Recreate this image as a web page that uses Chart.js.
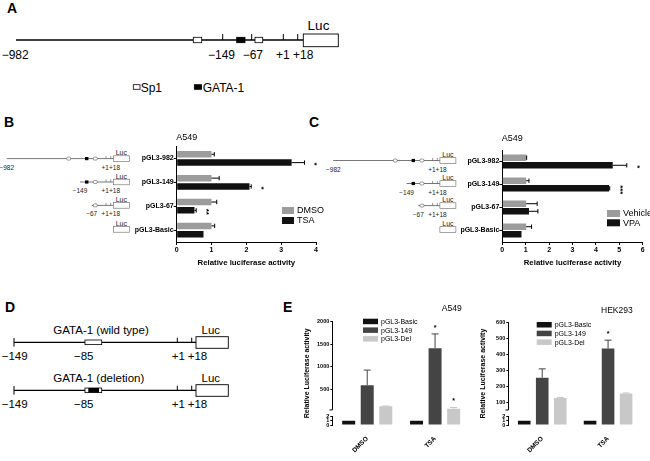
<!DOCTYPE html>
<html>
<head>
<meta charset="utf-8">
<script src="https://cdn.jsdelivr.net/npm/chart.js@4.4.1/dist/chart.umd.min.js"></script>
<style>
html, body { margin: 0; padding: 0; background: #fff; }
#fig { position: relative; width: 650px; height: 461px; overflow: hidden; }
#fig svg, #fig canvas { position: absolute; }
</style>
</head>
<body>
<div id="fig">
  <svg id="art" width="650" height="461" style="left:0;top:0"></svg>
  <canvas id="chartB" width="210" height="145" style="left:115px;top:128px"></canvas>
  <canvas id="chartC" width="210" height="145" style="left:440px;top:128px"></canvas>
  <canvas id="chartE1" width="176" height="161" style="left:296px;top:300px"></canvas>
  <canvas id="chartE2" width="178" height="161" style="left:472px;top:300px"></canvas>
</div>
<script>
// ---- data ----
const constructs = ['pGL3-982', 'pGL3-149', 'pGL3-67', 'pGL3-Basic'];

// panel B (A549, TSA)
const xTicksB = [0, 1, 2, 3, 4];
const dmso = [1.0, 1.0, 1.0, 1.0];
const dmsoErr = [0.08, 0.22, 0.15, 0.09];
const tsa = [3.30, 2.09, 0.51, 0.77];
const tsaErr = [0.37, 0.05, 0.05, 0];
const tsaSig = ['*', '*', '**', ''];

// panel C (A549, VPA)
const xTicksC = [0, 1, 2, 3, 4, 5, 6];
const vehicle = [1.02, 1.02, 1.02, 1.02];
const vehicleErr = [0.02, 0.12, 0.47, 0.23];
const vpa = [4.72, 4.56, 1.14, 0.82];
const vpaErr = [0.6, 0.03, 0.38, 0];
const vpaSig = ['*', '***', '', ''];

// panel E
const treatments = ['DMSO', 'TSA'];
const yTicksA549 = [0, 1, 2, 500, 1000, 1500, 2000];
const basicA549 = [1.0, 1.0];
const p149A549 = [595, 1415];
const p149A549Err = [335, 315];
const delA549 = [133, 78];
const delA549Err = [4, 25];
const yTicksHEK = [0, 1, 2, 100, 200, 300, 400, 500, 600];
const basicHEK = [1.0, 1.0];
const p149HEK = [253, 436];
const p149HEKErr = [55, 52];
const delHEK = [125, 153];
const delHEKErr = [4, 4];
const sig149 = ['', '*'];
const sigDelA549 = ['', '*'];

const FONT = 'Arial, "Liberation Sans", sans-serif';
const GRAY = '#9c9c9c';
const BLACK = '#111111';

// ---- static artwork (constructs, panel letters) ----
const NS = 'http://www.w3.org/2000/svg';
const art = document.getElementById('art');
function add(tag, attrs, text) {
    const e = document.createElementNS(NS, tag);
    for (const k in attrs) e.setAttribute(k, attrs[k]);
    if (text !== undefined) e.textContent = text;
    art.appendChild(e);
}
function seg(x1, y1, x2, y2, w = 1, c = '#000') {
    add('line', { x1, y1, x2, y2, stroke: c, 'stroke-width': w });
}
function box(x, y, w, h, fill, sw = 0.8, stroke = '#000', rx = 0) {
    add('rect', { x, y, width: w, height: h, fill, stroke, 'stroke-width': sw, rx });
}
function txt(x, y, s, size, anchor = 'start', weight = 'normal', fill = '#000') {
    add('text', { x, y, 'font-size': size, 'text-anchor': anchor, 'font-weight': weight, fill, 'font-family': FONT }, s);
}

txt(7, 13, 'A', 14, 'start', 'bold');
txt(4, 127, 'B', 14, 'start', 'bold');
txt(309, 127, 'C', 14, 'start', 'bold');
txt(5, 312, 'D', 14, 'start', 'bold');
txt(283, 312, 'E', 14, 'start', 'bold');

// panel A
seg(16, 40, 303.3, 40, 1.3);
box(193.3, 37.3, 8.4, 5.4, '#fff');
seg(222.7, 34, 222.7, 40);
box(236.7, 37.3, 8.3, 5.4, '#000');
seg(251.7, 34, 251.7, 40);
box(255, 37.3, 7.7, 5.4, '#fff');
seg(283.3, 34, 283.3, 40);
seg(297.7, 34, 297.7, 40);
box(303.3, 34, 35, 12.7, '#fff', 0.9);
txt(318.5, 30, 'Luc', 13.5, 'middle');
txt(1.7, 59.3, '−982', 12);
txt(208, 59.3, '−149', 12);
txt(242.7, 59.3, '−67', 12);
txt(276, 59.3, '+1', 12);
txt(293, 59.3, '+18', 12);
box(133.3, 84.7, 6.7, 4.6, '#fff');
txt(140.7, 91.6, 'Sp1', 12);
box(194.3, 84.7, 7.3, 4.6, '#000');
txt(202.7, 91.6, 'GATA-1', 12);

// small constructs next to panels B and C
function mini(x0, y, start, leftLabel) {
    const L = x0 + 106.6;
    if (start !== null) {
        seg(x0 + start, y, L, y, 0.8, '#555');
        if (start <= 60) box(x0 + 60, y - 1.5, 4, 3, '#fff', 0.6, '#555', 1.2);
        if (start <= 78) box(x0 + 78.3, y - 1.6, 3.4, 3.2, '#000', 0);
        box(x0 + 86.6, y - 1.5, 4, 3, '#fff', 0.6, '#555', 1.2);
        seg(x0 + 99.3, y - 2.6, x0 + 99.3, y, 0.6, '#555');
        seg(x0 + 104, y - 2.6, x0 + 104, y, 0.6, '#555');
        txt(x0 + start, y + 11, leftLabel, 6.5, 'middle', 'normal', '#222');
        txt(x0 + 104.1, y + 11, '+1+18', 6.5, 'middle', 'normal', '#222');
    }
    box(L, y - 2.8, 16, 5.6, '#fff', 0.6, '#666');
    txt(L + 8, y - 3.4, 'Luc', 7, 'middle', 'normal', '#222');
}
const miniStarts = [0, 73.3, 85, null];
const miniLabels = ['−982', '−149', '−67', ''];
const miniRowsB = [158.6, 182, 205.4, 229.4];
const miniRowsC = [160.5, 183.5, 205.6, 229.5];
miniStarts.forEach((s, i) => mini(6.7, miniRowsB[i], s, miniLabels[i]));
miniStarts.forEach((s, i) => mini(333.3, miniRowsC[i], s, miniLabels[i]));

// panel D
function dRow(dy, title, deleted) {
    const y = 342.3 + dy;
    txt(53.3, 334.3 + dy, title, 11.5);
    seg(14, y, 196, y, 1.3);
    seg(14, y - 4.3, 14, y + 4.3);
    box(85, y - 2.3, 16.7, 4.6, '#fff', 0.8);
    if (deleted) box(88.3, y - 2.3, 10.7, 4.6, '#000', 0);
    seg(177.3, y - 4.6, 177.3, y);
    seg(191.7, y - 4.6, 191.7, y);
    box(196, y - 5.6, 32.3, 11.6, '#fff', 0.9);
    txt(210.8, 333.5 + dy, 'Luc', 11.5, 'middle');
    txt(1.7, 360 + dy, '−149', 11.5);
    txt(74, 360 + dy, '−85', 11.5);
    txt(171.7, 360 + dy, '+1', 11.5);
    txt(187.7, 360 + dy, '+18', 11.5);
}
dRow(0, 'GATA-1 (wild type)', false);
dRow(48, 'GATA-1 (deletion)', true);

// ---- chart helpers ----
Chart.defaults.font.family = FONT;
Chart.defaults.color = '#000';

// y axis with a break between 2 and 50 (lower part 0-2, upper part 50-max)
const BRK = { lowMax: 2, highMin: 50, lowFrac: 0.081, gapFrac: 0.065 };
class BrokenScale extends Chart.LinearScale {
    getPixelForValue(value) {
        const hi = 1 - BRK.lowFrac - BRK.gapFrac;
        let d;
        if (value <= BRK.lowMax) d = value / BRK.lowMax * BRK.lowFrac;
        else if (value < BRK.highMin) d = BRK.lowFrac + BRK.gapFrac * (value - BRK.lowMax) / (BRK.highMin - BRK.lowMax);
        else d = BRK.lowFrac + BRK.gapFrac + (value - BRK.highMin) / (this.max - BRK.highMin) * hi;
        return this.getPixelForDecimal(d);
    }
    getValueForPixel(pixel) {
        const d = this.getDecimalForPixel(pixel);
        const hi = 1 - BRK.lowFrac - BRK.gapFrac;
        if (d <= BRK.lowFrac) return d / BRK.lowFrac * BRK.lowMax;
        if (d <= BRK.lowFrac + BRK.gapFrac) return BRK.lowMax;
        return BRK.highMin + (d - BRK.lowFrac - BRK.gapFrac) / hi * (this.max - BRK.highMin);
    }
}
BrokenScale.id = 'broken';
BrokenScale.defaults = Chart.LinearScale.defaults;
Chart.register(BrokenScale);

const errorBars = {
    id: 'errorBars',
    afterDatasetsDraw(chart) {
        const ctx = chart.ctx;
        const horizontal = chart.options.indexAxis === 'y';
        const vScale = horizontal ? chart.scales.x : chart.scales.y;
        chart.data.datasets.forEach((ds, i) => {
            if (!ds.errorBars) return;
            chart.getDatasetMeta(i).data.forEach((bar, j) => {
                const err = ds.errorBars[j];
                if (!err) return;
                const end = vScale.getPixelForValue(ds.data[j] + err);
                ctx.save();
                ctx.strokeStyle = ds.errorColor || ds.backgroundColor;
                ctx.lineWidth = 1;
                ctx.beginPath();
                if (horizontal) {
                    ctx.moveTo(bar.x, bar.y);
                    ctx.lineTo(end, bar.y);
                    ctx.moveTo(end, bar.y - 2.2);
                    ctx.lineTo(end, bar.y + 2.2);
                } else {
                    ctx.moveTo(bar.x, bar.y);
                    ctx.lineTo(bar.x, end);
                    ctx.moveTo(bar.x - 3.5, end);
                    ctx.lineTo(bar.x + 3.5, end);
                }
                ctx.stroke();
                ctx.restore();
            });
        });
    }
};

const sigMarks = {
    id: 'sigMarks',
    afterDatasetsDraw(chart, args, opts) {
        const ctx = chart.ctx;
        const horizontal = chart.options.indexAxis === 'y';
        const vScale = horizontal ? chart.scales.x : chart.scales.y;
        chart.data.datasets.forEach((ds, i) => {
            if (!ds.sig) return;
            chart.getDatasetMeta(i).data.forEach((bar, j) => {
                const s = ds.sig[j];
                if (!s) return;
                const end = vScale.getPixelForValue(ds.data[j] + (ds.errorBars ? ds.errorBars[j] : 0));
                ctx.save();
                ctx.fillStyle = '#000';
                ctx.font = 'bold ' + opts.size + 'px ' + FONT;
                ctx.textAlign = 'center';
                ctx.textBaseline = 'middle';
                if (horizontal) {
                    ctx.translate(end + opts.gap, bar.y + opts.dy);
                    ctx.rotate(Math.PI / 2);
                } else {
                    ctx.translate(bar.x, end - opts.gap);
                }
                ctx.fillText(s, 0, 0);
                ctx.restore();
            });
        });
    }
};

const insetLegend = {
    id: 'insetLegend',
    afterDraw(chart, args, opts) {
        const { ctx, chartArea } = chart;
        ctx.save();
        ctx.font = opts.size + 'px ' + FONT;
        ctx.textBaseline = 'middle';
        chart.data.datasets.forEach((ds, i) => {
            const x = chartArea.left + opts.x;
            const y = chartArea.top + opts.y + i * opts.row;
            ctx.fillStyle = ds.backgroundColor;
            ctx.fillRect(x, y, opts.w, opts.h);
            ctx.fillStyle = '#000';
            ctx.fillText(ds.label, x + opts.w + 3, y + opts.h / 2 + 0.5);
        });
        ctx.restore();
    }
};

const panelTitle = {
    id: 'panelTitle',
    afterDraw(chart, args, opts) {
        const { ctx, chartArea } = chart;
        ctx.save();
        ctx.font = opts.size + 'px ' + FONT;
        ctx.fillStyle = '#000';
        ctx.textBaseline = 'middle';
        ctx.textAlign = opts.align;
        const x = opts.align === 'right' ? chartArea.right - opts.dx : chartArea.left + opts.dx;
        ctx.fillText(opts.text, x, chartArea.top + opts.dy);
        ctx.restore();
    }
};

// left axis drawn in two pieces, with a small end tick at the foot of the upper piece
const brokenAxisLine = {
    id: 'brokenAxisLine',
    afterDraw(chart) {
        const { ctx, chartArea } = chart;
        const y = chart.scales.y;
        const x0 = Math.round(chartArea.left) - 0.5;
        const yBreak = y.getPixelForValue(BRK.highMin);
        ctx.save();
        ctx.strokeStyle = '#000';
        ctx.lineWidth = 1;
        ctx.beginPath();
        ctx.moveTo(x0, y.getPixelForValue(0));
        ctx.lineTo(x0, y.getPixelForValue(BRK.lowMax));
        ctx.moveTo(x0, yBreak);
        ctx.lineTo(x0, y.getPixelForValue(y.max));
        ctx.moveTo(x0 - 3, yBreak);
        ctx.lineTo(x0, yBreak);
        ctx.stroke();
        ctx.restore();
    }
};

function hbarChart(id, names, series, errs, sig, ticks, geo) {
    return new Chart(document.getElementById(id), {
        type: 'bar',
        data: {
            labels: constructs,
            datasets: [
                { label: names[0], data: series[0], errorBars: errs[0], backgroundColor: GRAY, errorColor: '#000' },
                { label: names[1], data: series[1], errorBars: errs[1], sig: sig, backgroundColor: BLACK, errorColor: '#000' }
            ]
        },
        options: {
            indexAxis: 'y',
            responsive: false,
            animation: false,
            layout: { padding: { top: geo.top, right: geo.right, left: 0, bottom: 0 } },
            datasets: { bar: { categoryPercentage: geo.cat, barPercentage: geo.bar } },
            scales: {
                x: {
                    type: 'linear',
                    min: ticks[0],
                    max: ticks[ticks.length - 1],
                    afterBuildTicks: s => { s.ticks = ticks.map(v => ({ value: v })); },
                    border: { color: '#000', width: 1 },
                    grid: { drawOnChartArea: false, tickLength: 3, color: '#000' },
                    ticks: { font: { size: 7, weight: 'bold' }, padding: 1, autoSkip: false, maxRotation: 0 },
                    title: { display: true, text: 'Relative luciferase activity', font: { size: 7.8, weight: 'bold' }, padding: { top: 0, bottom: 5.3 } },
                    afterFit: s => { s.height = 31; }
                },
                y: {
                    type: 'category',
                    offset: true,
                    border: { color: '#000', width: 1 },
                    grid: { offset: false, drawOnChartArea: false, tickLength: 3, color: '#000' },
                    ticks: { font: { size: 7, weight: 'bold' }, padding: 0, autoSkip: false },
                    afterFit: s => { s.width = geo.yw; }
                }
            },
            plugins: {
                legend: { display: false },
                tooltip: { enabled: false },
                sigMarks: { size: 8, gap: 10, dy: 1.5 },
                insetLegend: geo.legend,
                panelTitle: { text: 'A549', size: 9, align: 'left', dx: -0.5, dy: geo.titleDy }
            }
        },
        plugins: [errorBars, sigMarks, insetLegend, panelTitle]
    });
}

hbarChart('chartB', ['DMSO', 'TSA'], [dmso, tsa], [dmsoErr, tsaErr], tsaSig, xTicksB, {
    top: 18.5, right: 9, yw: 61.7, cat: 0.70, bar: 0.78, titleDy: -8.5,
    legend: { x: 105.3, y: 60.5, w: 12, h: 7, row: 10, size: 9 }
});
hbarChart('chartC', ['Vehicle', 'VPA'], [vehicle, vpa], [vehicleErr, vpaErr], vpaSig, xTicksC, {
    top: 22, right: 7.3, yw: 62.3, cat: 0.66, bar: 0.84, titleDy: -11.7,
    legend: { x: 104.7, y: 60, w: 13, h: 7, row: 9.3, size: 9 }
});

function vbarChart(id, title, ticks, basic, p149, p149Err, del, delErr, geo) {
    return new Chart(document.getElementById(id), {
        type: 'bar',
        data: {
            labels: treatments,
            datasets: [
                { label: 'pGL3-Basic', data: basic, backgroundColor: BLACK },
                { label: 'pGL3-149', data: p149, errorBars: p149Err, sig: sig149, backgroundColor: '#444444' },
                { label: 'pGL3-Del', data: del, errorBars: delErr, sig: geo.delSig, backgroundColor: '#c8c8c8' }
            ]
        },
        options: {
            responsive: false,
            animation: false,
            layout: { padding: { top: geo.top, right: geo.right, left: 0, bottom: 0 } },
            datasets: { bar: { categoryPercentage: 0.82, barPercentage: 0.70 } },
            scales: {
                x: {
                    type: 'category',
                    offset: true,
                    border: { display: false },
                    grid: { display: false },
                    ticks: { font: { size: 6.5, weight: 'bold' }, minRotation: 45, maxRotation: 45, padding: 2 },
                    afterFit: s => { s.height = 36; }
                },
                y: {
                    type: 'broken',
                    min: 0,
                    max: ticks[ticks.length - 1],
                    afterBuildTicks: s => { s.ticks = ticks.map(v => ({ value: v })); },
                    border: { display: false },
                    grid: { drawOnChartArea: false, tickLength: 3, color: '#000' },
                    ticks: { font: { size: 5.5, weight: 'bold' }, padding: 1, autoSkip: false, callback: v => String(v) },
                    title: { display: true, text: 'Relative Luciferase activity', font: { size: 7, weight: 'bold' }, padding: { top: 6.5, bottom: 0 } },
                    afterFit: s => { s.width = 37.3; }
                }
            },
            plugins: {
                legend: { display: false },
                tooltip: { enabled: false },
                sigMarks: { size: 7, gap: 6, dy: 0 },
                insetLegend: geo.legend,
                panelTitle: { text: title, size: 8.5, align: 'right', dx: geo.titleDx, dy: geo.titleDy }
            }
        },
        plugins: [errorBars, sigMarks, insetLegend, panelTitle, brokenAxisLine]
    });
}

vbarChart('chartE1', 'A549', yTicksA549, basicA549, p149A549, p149A549Err, delA549, delA549Err, {
    top: 21.7, right: 3, titleDx: 7.3, titleDy: -13.4, delSig: sigDelA549,
    legend: { x: 29.7, y: -3, w: 15, h: 5.5, row: 8.7, size: 7 }
});
vbarChart('chartE2', 'HEK293', yTicksHEK, basicHEK, p149HEK, p149HEKErr, delHEK, delHEKErr, {
    top: 22.3, right: 9, titleDx: 8.3, titleDy: -11.6, delSig: null,
    legend: { x: 27.4, y: -0.3, w: 15, h: 5.5, row: 8.7, size: 7 }
});
</script>
</body>
</html>
